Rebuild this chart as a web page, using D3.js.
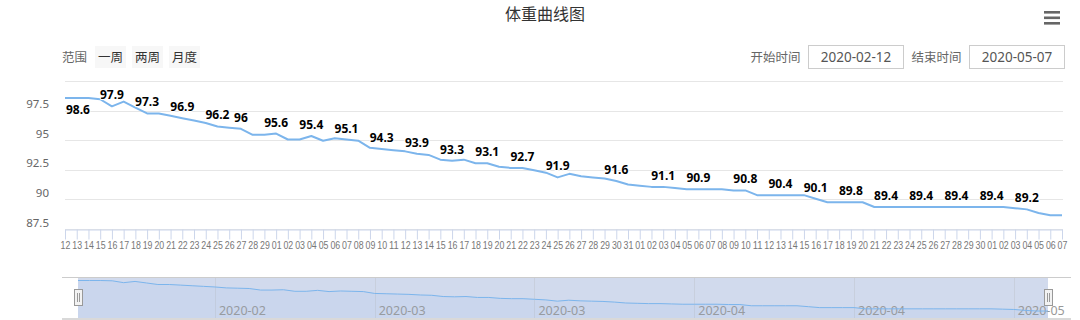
<!DOCTYPE html>
<html lang="zh">
<head>
<meta charset="utf-8">
<title>体重曲线图</title>
<script src="https://cdn.jsdelivr.net/npm/d3@7"></script>
<style>
	html, body { margin: 0; padding: 0; background: #fff; }
	svg { display: block; font-family: "Noto Sans", "Noto Sans CJK SC", sans-serif; }
	.cjk { font-family: "Noto Sans CJK SC", "Noto Sans", sans-serif; }
</style>
</head>
<body>
<div id="graphe"></div>
<script>
"use strict";

// DONNÉES : une pesée par jour à partir de "debut"
var titre = "体重曲线图";
var debut = "2020-02-12";
var poids = [
	98.6, 98.6, 98.6, 98.5, 97.9, 98.3, 97.8, 97.3, 97.3, 97.1,
	96.9, 96.7, 96.5, 96.2, 96.1, 96.0, 95.5, 95.5, 95.6, 95.1,
	95.1, 95.4, 95.0, 95.2, 95.1, 95.0, 94.4, 94.3, 94.2, 94.1,
	93.9, 93.8, 93.4, 93.3, 93.4, 93.1, 93.1, 92.8, 92.7, 92.7,
	92.5, 92.3, 91.9, 92.2, 92.0, 91.9, 91.8, 91.6, 91.3, 91.2,
	91.1, 91.1, 91.0, 90.9, 90.9, 90.9, 90.9, 90.8, 90.8, 90.4,
	90.4, 90.4, 90.4, 90.4, 90.1, 89.8, 89.8, 89.8, 89.8, 89.4,
	89.4, 89.4, 89.4, 89.4, 89.4, 89.4, 89.4, 89.4, 89.4, 89.4,
	89.4, 89.3, 89.2, 88.9, 88.7, 88.7
];
// rangs des pesées dont l'étiquette reste visible (les autres sont masquées par chevauchement)
var etiquettes = [0, 4, 7, 10, 13, 15, 18, 21, 24, 27, 30, 33, 36, 39, 42, 47, 51, 54, 58, 61, 64, 67, 70, 73, 76, 79, 82];
var graduationsY = [87.5, 90, 92.5, 95, 97.5, 100];
var graduationsNav = ["2020-02-24", "2020-03-09", "2020-03-23", "2020-04-06", "2020-04-20", "2020-05-04"];
var boutons = ["一周", "两周", "月度"];
var bornes = ["2020-02-12", "2020-05-07"];
var libelles = ["范围", "开始时间", "结束时间"];

// DIMENSIONS
var dim = { largeur: 1080, hauteur: 320, gauche: 65, droite: 1062, haut: 81.5, bas: 229.5,
	navGauche: 62, navDroite: 1071, navHaut: 277.5, navBas: 318, selGauche: 78, selDroite: 1048 };

var lire = d3.timeParse("%Y-%m-%d"),
	dates = poids.map((d, i) => d3.timeDay.offset(lire(debut), i));

var x = d3.scaleTime().domain(d3.extent(dates)).range([dim.gauche, dim.droite]),
	y = d3.scaleLinear().domain([d3.min(graduationsY), d3.max(graduationsY)]).range([dim.bas, dim.haut]),
	xNav = d3.scaleTime().domain(d3.extent(dates)).range([dim.selGauche, dim.selDroite]),
	yNav = d3.scaleLinear().domain(d3.extent(poids)).range([311, 280.5]);

var svg = d3.select("#graphe").append("svg")
	.attr("width", dim.largeur)
	.attr("height", dim.hauteur)
	.attr("viewBox", "0 0 " + dim.largeur + " " + dim.hauteur);

// titre et menu
svg.append("text")
	.attr("class", "cjk")
	.attr("x", 545).attr("y", 20)
	.attr("text-anchor", "middle")
	.attr("font-size", 16)
	.attr("fill", "#333")
	.text(titre);
svg.append("g").selectAll("rect")
	.data([0, 1, 2])
	.join("rect")
		.attr("x", 1044).attr("y", d => 11 + d * 5.5)
		.attr("width", 16).attr("height", 2.6)
		.attr("fill", "#666");

// sélecteur de plage
var entete = svg.append("g").attr("class", "cjk").attr("font-size", 12.5);
entete.append("text")
	.attr("x", 62).attr("y", 61.5)
	.attr("fill", "#666")
	.text(libelles[0]);
var bt = entete.selectAll(".bouton")
	.data(boutons)
	.join("g")
		.attr("class", "bouton")
		.attr("transform", (d, i) => "translate(" + (95 + i * 37) + ",46)");
bt.append("rect")
	.attr("width", 31).attr("height", 22)
	.attr("fill", "#f7f7f7");
bt.append("text")
	.attr("x", 15.5).attr("y", 15.5)
	.attr("text-anchor", "middle")
	.attr("fill", "#333")
	.text(d => d);

// champs de dates
var champs = entete.selectAll(".champ")
	.data(bornes)
	.join("g")
		.attr("class", "champ")
		.attr("transform", (d, i) => "translate(" + (i ? 969.5 : 808.5) + ",45.5)");
champs.append("text")
	.attr("x", -8).attr("y", 16)
	.attr("text-anchor", "end")
	.attr("fill", "#666")
	.text((d, i) => libelles[i + 1]);
champs.append("rect")
	.attr("width", 95).attr("height", 23)
	.attr("fill", "#fff")
	.attr("stroke", "#ccc");
champs.append("text")
	.attr("x", 47.5).attr("y", 16.5)
	.attr("text-anchor", "middle")
	.attr("font-family", "Noto Sans, sans-serif")
	.attr("font-size", 13.5)
	.attr("fill", "#555")
	.text(d => d);

// grilles et axe Y
var grille = svg.append("g");
grille.selectAll("line")
	.data(graduationsY)
	.join("line")
		.attr("x1", dim.gauche).attr("x2", dim.droite + 1)
		.attr("y1", d => y(d)).attr("y2", d => y(d))
		.attr("stroke", "#e6e6e6")
		.attr("shape-rendering", "crispEdges");
grille.selectAll("text")
	.data(graduationsY.slice(0, -1))
	.join("text")
		.attr("x", 49).attr("y", d => y(d) - 3)
		.attr("text-anchor", "end")
		.attr("font-size", 11.5)
		.attr("fill", "#666")
		.text(d => d);

// axe X : un repère par jour
var axeX = svg.append("g")
	.attr("transform", "translate(0," + dim.bas + ")")
	.call(d3.axisBottom(x)
		.tickValues(dates)
		.tickFormat(d3.timeFormat("%d"))
		.tickSize(10)
		.tickSizeOuter(0));
axeX.select(".domain").attr("stroke", "#ccd6eb");
axeX.selectAll(".tick line").attr("stroke", "#ccd6eb");
axeX.selectAll(".tick text")
	.attr("y", 11)
	.attr("font-size", 11.5)
	.attr("fill", "#777")
	.attr("textLength", 9.8)
	.attr("lengthAdjust", "spacingAndGlyphs");

// courbe
svg.append("path")
	.datum(poids)
	.attr("fill", "none")
	.attr("stroke", "#7cb5ec")
	.attr("stroke-width", 2)
	.attr("stroke-linejoin", "round")
	.attr("d", d3.line().x((d, i) => x(dates[i])).y(d => y(d)));

// étiquettes de valeurs
var valeurs = svg.append("g")
	.attr("font-size", 12)
	.attr("font-weight", "bold");
etiquettes.forEach(function (i) {
	var px = x(dates[i]), py = y(poids[i]),
		t = valeurs.append("text")
			.attr("text-anchor", "middle")
			.attr("fill", "#000")
			.attr("stroke", "#fff")
			.attr("stroke-width", 2)
			.attr("stroke-linejoin", "round")
			.attr("paint-order", "stroke")
			.text(String(poids[i])),
		w = t.node().getComputedTextLength();
	px - w / 2 < dim.gauche
	&& (px = dim.gauche + 1 + w / 2);
	px + w / 2 > dim.droite
	&& (px = dim.droite - w / 2);
	t.attr("x", px)
		.attr("y", py - 22 < dim.haut ? py + 16 : py - 7);
});

// navigateur
var nav = svg.append("g");
nav.append("rect")
	.attr("x", dim.navGauche).attr("y", dim.navBas)
	.attr("width", dim.navDroite - dim.navGauche).attr("height", 14)
	.attr("fill", "#d9d9d9");
nav.append("rect")
	.attr("x", dim.selGauche).attr("y", dim.navHaut)
	.attr("width", dim.selDroite - dim.selGauche).attr("height", dim.navBas - dim.navHaut)
	.attr("fill", "rgba(102,133,194,0.3)");
nav.selectAll(".grille")
	.data(graduationsNav.map(lire))
	.join("line")
		.attr("class", "grille")
		.attr("x1", d => Math.round(xNav(d)) + 0.5).attr("x2", d => Math.round(xNav(d)) + 0.5)
		.attr("y1", dim.navHaut).attr("y2", dim.navBas)
		.attr("stroke", "#c8cfdd");
nav.selectAll(".date")
	.data(graduationsNav.map(lire))
	.join("text")
		.attr("class", "date")
		.attr("x", d => xNav(d) + 4).attr("y", 315)
		.attr("font-size", 12.5)
		.attr("fill", "#999")
		.text(d3.timeFormat("%Y-%m"));
nav.append("path")
	.datum(poids)
	.attr("fill", "#7cb5ec")
	.attr("fill-opacity", 0.08)
	.attr("d", d3.area().x((d, i) => xNav(dates[i])).y0(dim.navBas).y1(d => yNav(d)));
nav.append("path")
	.datum(poids)
	.attr("fill", "none")
	.attr("stroke", "#7cb5ec")
	.attr("stroke-width", 1)
	.attr("d", d3.line().x((d, i) => xNav(dates[i])).y(d => yNav(d)));
nav.append("line")
	.attr("x1", dim.navGauche).attr("x2", dim.navDroite)
	.attr("y1", dim.navHaut).attr("y2", dim.navHaut)
	.attr("stroke", "#ccc");

// poignées
var poignees = nav.selectAll(".poignee")
	.data([dim.selGauche, dim.selDroite])
	.join("g")
		.attr("class", "poignee")
		.attr("transform", d => "translate(" + Math.round(d) + ",0)");
poignees.append("rect")
	.attr("x", -3.5).attr("y", 289.5)
	.attr("width", 8).attr("height", 16)
	.attr("fill", "#f2f2f2")
	.attr("stroke", "#999");
poignees.selectAll("line")
	.data([-0.5, 1.5])
	.join("line")
		.attr("x1", d => d).attr("x2", d => d)
		.attr("y1", 293).attr("y2", 302)
		.attr("stroke", "#999");
</script>
</body>
</html>
